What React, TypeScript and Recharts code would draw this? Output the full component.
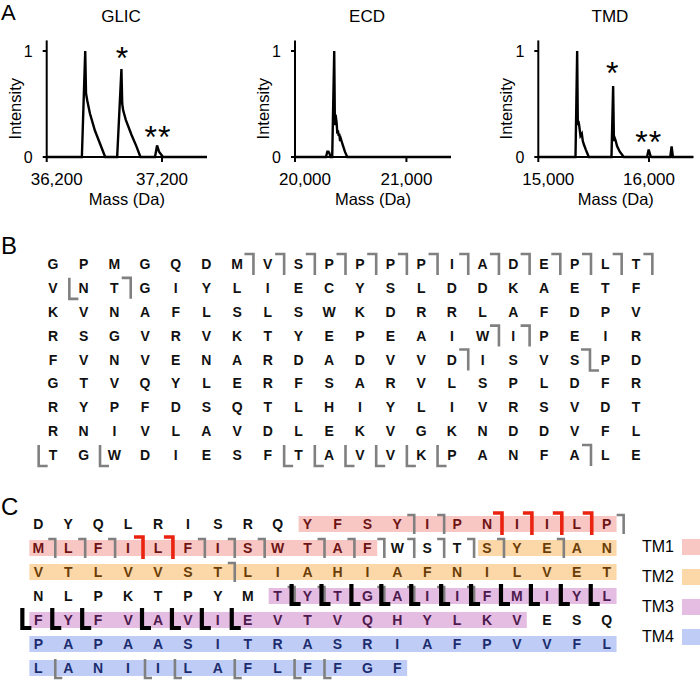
import React from 'react';
import {
  LineChart,
  Line,
  XAxis,
  YAxis,
  ScatterChart,
  Scatter,
  ReferenceArea,
  ReferenceDot,
  Legend,
} from 'recharts';

const FONT = '"Liberation Sans", Arial, Helvetica, sans-serif';

// ---------------- Panel A : deconvoluted mass spectra ----------------
const glicMass = [36200, 36505, 36534, 36541, 36552, 36575, 36618, 36661, 36707, 36811, 36848, 36855, 36863, 36886, 36935, 36978, 37013, 37139, 37157, 37174, 37209, 37590];
const glicIntensity = [0, 0, 1.0, 0.6, 0.53, 0.41, 0.25, 0.13, 0, 0, 0.83, 0.5, 0.44, 0.35, 0.21, 0.1, 0, 0, 0.11, 0.05, 0, 0];

const ecdMass = [20000, 20278, 20290, 20300, 20307, 20319, 20334, 20352, 20358, 20364, 20373, 20380, 20385, 20392, 20397, 20405, 20412, 20427, 20448, 20469, 21400];
const ecdIntensity = [0, 0, 0.05, 0.05, 0.04, 0, 0, 1.0, 0.3, 0.4, 0.33, 0.22, 0.25, 0.2, 0.22, 0.15, 0.17, 0.12, 0.05, 0, 0];

const tmdMass = [15000, 15336, 15351, 15357, 15362, 15369, 15375, 15381, 15393, 15402, 15411, 15429, 15456, 15661, 15676, 15683, 15690, 15697, 15712, 15736, 15772, 15982, 15997, 16012, 16024, 16192, 16204, 16216, 16400];
const tmdIntensity = [0, 0, 1.0, 0.3, 0.34, 0.3, 0.25, 0.2, 0.22, 0.15, 0.12, 0.07, 0, 0, 0.67, 0.15, 0.18, 0.16, 0.1, 0.05, 0, 0, 0.07, 0.015, 0, 0, 0.1, 0, 0];

const glicTicks = [36200, 37200];
const ecdTicks = [20000, 21000];
const tmdTicks = [15000, 16000];
const intensityTicks = [0, 1];

const glicStarMass = [36857, 37165];
const glicStarIntensity = [0.977, 0.226];
const glicStarText = ['*', '**'];
const tmdStarMass = [15673, 15997];
const tmdStarIntensity = [0.83, 0.18];
const tmdStarText = ['*', '**'];

// ---------------- Panel B : full GLIC sequence ----------------
const seqRowsB = [
  'GPMGQDMVSPPPPIADEPLT',
  'VNTGIYLIECYSLDDKAETF',
  'KVNAFLSLSWKDRRLAFDPV',
  'RSGVRVKTYEPEAIWIPEIR',
  'FVNVENARDADVVDISVSPD',
  'GTVQYLERFSARVLSPLDFR',
  'RYPFDSQTLHIYLIVRSVDT',
  'RNIVLAVDLEKVGKNDDVFL',
  'TGWDIESFTAVVKPANFALE',
];
// [row, column, kind]  a = cut after residue, b = cut before residue, s = step
const cutsB: [number, number, string][] = [
  [1, 7, 'a'], [1, 8, 'a'], [1, 9, 'a'], [1, 10, 'a'], [1, 11, 'a'], [1, 12, 'a'], [1, 13, 'a'],
  [1, 14, 'a'], [1, 15, 'a'], [1, 16, 'a'], [1, 17, 'a'], [1, 18, 'a'], [1, 19, 'a'], [1, 20, 'a'],
  [2, 2, 'b'], [2, 3, 'a'],
  [4, 15, 'a'], [4, 16, 'a'],
  [5, 14, 'a'], [5, 18, 's'],
  [9, 1, 'b'], [9, 3, 'b'], [9, 9, 'b'], [9, 10, 'b'], [9, 11, 'b'], [9, 12, 'b'], [9, 13, 'b'], [9, 14, 'b'],
  [9, 18, 'a'],
];

// ---------------- Panel C : TMD sequence ----------------
const seqRowsC = [
  'DYQLRISRQYFSYIPNIILP',
  'MLFILFISWTAFWSTSYEAN',
  'VTLVVSTLIAHIAFNILVET',
  'NLPKTPYMTYTGAIIFMIYL',
  'FYFVAVIEVTVQHYLKVESQ',
  'PAPAASITRASRIAFPVVFL',
  'LANIILAFLFFGF',
];
// [row, fromColumn, toColumn, helix]
const bandsC: [number, number, number, string][] = [
  [1, 10, 20, 'TM1'],
  [2, 1, 12, 'TM1'],
  [2, 16, 20, 'TM2'],
  [3, 1, 20, 'TM2'],
  [4, 9, 20, 'TM3'],
  [5, 1, 17, 'TM3'],
  [6, 1, 20, 'TM4'],
  [7, 1, 13, 'TM4'],
];
// [row, column, kind, tone]  g = grey, r = red, k = black
const cutsC: [number, number, string, string][] = [
  [1, 13, 'a', 'g'], [1, 14, 'a', 'g'], [1, 16, 'a', 'r'], [1, 17, 'a', 'r'], [1, 18, 'a', 'r'], [1, 19, 'a', 'r'], [1, 20, 'a', 'g'],
  [2, 1, 'a', 'g'], [2, 2, 'a', 'g'], [2, 3, 'a', 'g'], [2, 4, 'a', 'r'], [2, 5, 'a', 'r'], [2, 6, 'a', 'g'], [2, 7, 'a', 'g'],
  [2, 8, 'a', 'g'], [2, 10, 'a', 'g'], [2, 11, 'a', 'g'], [2, 12, 'a', 'g'], [2, 13, 'a', 'g'], [2, 14, 'a', 'g'],
  [2, 15, 'a', 'g'], [2, 16, 'a', 'g'], [2, 18, 'a', 'g'],
  [3, 7, 'a', 'g'],
  [4, 9, 'a', 'g'], [4, 10, 'a', 'g'], [4, 12, 'a', 'g'], [4, 13, 'a', 'g'], [4, 14, 'a', 'g'], [4, 15, 'a', 'g'],
  [4, 10, 'b', 'k'], [4, 11, 'b', 'k'], [4, 12, 'b', 'k'], [4, 13, 'b', 'k'], [4, 14, 'b', 'k'], [4, 15, 'b', 'k'],
  [4, 16, 'b', 'k'], [4, 17, 'b', 'k'], [4, 18, 'b', 'k'], [4, 19, 'b', 'k'], [4, 20, 'b', 'k'],
  [5, 1, 'b', 'k'], [5, 2, 'b', 'k'], [5, 3, 'b', 'k'], [5, 5, 'b', 'k'], [5, 6, 'b', 'k'], [5, 7, 'b', 'k'], [5, 8, 'b', 'k'],
  [7, 2, 'b', 'g'], [7, 5, 'b', 'g'], [7, 6, 'b', 'g'], [7, 8, 'b', 'g'], [7, 10, 'b', 'g'], [7, 11, 'b', 'g'],
];

const helixNames = ['TM1', 'TM2', 'TM3', 'TM4'];
const helixFill = ['#f9c7c3', '#fcd8a8', '#e6bde2', '#bfcdf6'];
const helixText = ['#6e1414', '#6b3d06', '#4d1a4d', '#1c2c6e'];

// ---------------- helpers ----------------
const fmt = (v: number) => v.toLocaleString('en-US');

const makeXTick = (firstShift: number) => (p: any) => (
  <text
    x={p.x + (p.index === 0 ? firstShift : 0)}
    y={p.y}
    dy="0.71em"
    textAnchor="middle"
    fontFamily={FONT}
    fontSize={17}
    fill="#000"
  >
    {fmt(p.payload.value)}
  </text>
);

const yTick = (p: any) => (
  <text x={p.x} y={p.y} dy="0.36em" textAnchor="end" fontFamily={FONT} fontSize={16} fill="#000">
    {p.payload.value}
  </text>
);

type Spec = {
  title: string;
  mass: number[];
  intensity: number[];
  ticks: number[];
  domain: [number, number];
  starMass: number[];
  starIntensity: number[];
  starText: string[];
  left: number;
  width: number;
  plotLeft: number;
  plotRight: number;
  titleX: number;
};

const spectra: Spec[] = [
  {
    title: 'GLIC', mass: glicMass, intensity: glicIntensity, ticks: glicTicks, domain: [36200, 37590],
    starMass: glicStarMass, starIntensity: glicStarIntensity, starText: glicStarText,
    left: 0, width: 230, plotLeft: 46.7, plotRight: 207, titleX: 121,
  },
  {
    title: 'ECD', mass: ecdMass, intensity: ecdIntensity, ticks: ecdTicks, domain: [20000, 21400],
    starMass: [], starIntensity: [], starText: [],
    left: 230, width: 230, plotLeft: 65, plotRight: 221, titleX: 367,
  },
  {
    title: 'TMD', mass: tmdMass, intensity: tmdIntensity, ticks: tmdTicks, domain: [15000, 16400],
    starMass: tmdStarMass, starIntensity: tmdStarIntensity, starText: tmdStarText,
    left: 460, width: 240, plotLeft: 78.3, plotRight: 233.3, titleX: 610,
  },
];

const CH = 215;

function Spectrum({ s }: { s: Spec }) {
  const data = s.mass.map((m, k) => ({ m, i: s.intensity[k] }));
  return (
    <div style={{ position: 'absolute', left: s.left, top: 0, width: s.width, height: CH }}>
      <LineChart
        width={s.width}
        height={CH}
        data={data}
        margin={{ top: 40.4, right: s.width - s.plotRight, bottom: 28, left: s.plotLeft - 30 }}
      >
        <XAxis
          dataKey="m"
          type="number"
          domain={s.domain}
          ticks={s.ticks}
          interval={0}
          height={30}
          axisLine={{ stroke: '#000', strokeWidth: 2 }}
          tickLine={{ stroke: '#000', strokeWidth: 2 }}
          tickSize={5}
          tickMargin={11}
          tick={makeXTick(10)}
          label={(p: any) => {
            const vb = p.viewBox;
            return (
              <text
                x={vb.x + vb.width / 2}
                y={vb.y + 48}
                textAnchor="middle"
                fontFamily={FONT}
                fontSize={16.5}
                fill="#000"
              >
                Mass (Da)
              </text>
            );
          }}
        />
        <YAxis
          type="number"
          domain={[0, 1.1]}
          ticks={intensityTicks}
          interval={0}
          width={30}
          axisLine={{ stroke: '#000', strokeWidth: 2 }}
          tickLine={{ stroke: '#000', strokeWidth: 2 }}
          tickSize={4}
          tickMargin={10}
          tick={yTick}
          label={(p: any) => {
            const vb = p.viewBox;
            const x = vb.x + vb.width - 32;
            const y = vb.y + vb.height / 2 + 10;
            return (
              <text
                x={x}
                y={y}
                transform={`rotate(-90 ${x} ${y})`}
                textAnchor="middle"
                dominantBaseline="central"
                fontFamily={FONT}
                fontSize={16.5}
                fill="#000"
              >
                Intensity
              </text>
            );
          }}
        />
        <Line
          dataKey="i"
          type="linear"
          stroke="#000"
          strokeWidth={2.4}
          dot={false}
          isAnimationActive={false}
        />
        {s.starMass.map((m, k) => (
          <ReferenceDot
            key={k}
            x={m}
            y={s.starIntensity[k]}
            r={0}
            shape={(p: any) => (
              <text
                x={p.cx}
                y={p.cy}
                dy="0.48em"
                textAnchor="middle"
                fontFamily={FONT}
                fontSize={32}
                letterSpacing={1}
                fill="#000"
              >
                {s.starText[k]}
              </text>
            )}
          />
        ))}
      </LineChart>
      <div
        style={{
          position: 'absolute',
          left: s.titleX - s.left - 50,
          top: 8,
          width: 100,
          textAlign: 'center',
          fontFamily: FONT,
          fontSize: 17,
          lineHeight: 1,
          color: '#000',
        }}
      >
        {s.title}
      </div>
    </div>
  );
}

type Geo = { up: number; down: number; arm: number; dx: number; stroke: string; w: number };

function bracketPath(cx: number, cy: number, kind: string, g: Geo) {
  const top = cy - g.up;
  const bot = cy + g.down;
  if (kind === 'a') {
    const x = cx + g.dx;
    return `M${x - g.arm},${top} H${x} V${bot}`;
  }
  if (kind === 'b') {
    const x = cx + g.dx;
    return `M${x},${top} V${bot} H${x + g.arm}`;
  }
  const x = cx;
  return `M${x - g.arm},${top} H${x} V${bot} H${x + g.arm}`;
}

const geoB: Geo = { up: 10, down: 11, arm: 9, dx: 1, stroke: '#808080', w: 2.6 };
const geoC: Record<string, Geo> = {
  g: { up: 9, down: 10, arm: 7, dx: 2, stroke: '#808080', w: 2.6 },
  r: { up: 11, down: 11, arm: 9, dx: 0, stroke: '#ea2210', w: 3.6 },
  k: { up: 12, down: 8, arm: 9, dx: -1, stroke: '#000000', w: 4.2 },
};

// ---------------- data tables for panels B and C ----------------
const lettersB = seqRowsB.flatMap((s, r) => s.split('').map((aa, c) => ({ x: c + 1, y: r + 1, aa })));
const bracketsB = cutsB.map(([row, col, kind]) => ({
  x: kind === 'b' ? col - 0.5 : col + 0.5,
  y: row,
  kind,
}));

const helixOf = (row: number, col: number) => {
  const b = bandsC.find(([r, f, t]) => r === row && col >= f && col <= t);
  return b ? helixNames.indexOf(b[3]) : -1;
};
const lettersC = seqRowsC.flatMap((s, r) =>
  s.split('').map((aa, c) => ({ x: c + 1, y: r + 1, aa, h: helixOf(r + 1, c + 1) })),
);
const bracketsC = cutsC.map(([row, col, kind, tone]) => ({
  x: kind === 'b' ? col - 0.5 : col + 0.5,
  y: row,
  kind,
  tone,
}));

const letterShape = (p: any) => (
  <text
    x={p.cx}
    y={p.cy}
    textAnchor="middle"
    dominantBaseline="central"
    fontFamily={FONT}
    fontWeight="bold"
    fontSize={14}
    fill={p.payload.h !== undefined && p.payload.h >= 0 ? helixText[p.payload.h] : '#111'}
  >
    {p.payload.aa}
  </text>
);

const bracketShapeB = (p: any) => (
  <path
    d={bracketPath(p.cx, p.cy, p.payload.kind, geoB)}
    fill="none"
    stroke={geoB.stroke}
    strokeWidth={geoB.w}
  />
);

const bracketShapeC = (p: any) => {
  const g = geoC[p.payload.tone];
  return (
    <path d={bracketPath(p.cx, p.cy, p.payload.kind, g)} fill="none" stroke={g.stroke} strokeWidth={g.w} />
  );
};

const legendContent = () => (
  <div style={{ fontFamily: FONT, fontSize: 16, color: '#000' }}>
    {helixNames.map((n, k) => (
      <div key={n} style={{ position: 'relative', height: 30, lineHeight: '30px' }}>
        <span style={{ position: 'absolute', left: 2 }}>{n}</span>
        <span
          style={{
            position: 'absolute',
            left: 42,
            top: 7,
            width: 20,
            height: 16,
            background: helixFill[k],
          }}
        />
      </div>
    ))}
  </div>
);

const panelLabel = (t: string, top: number, size: number) => (
  <div
    style={{
      position: 'absolute',
      left: 1,
      top,
      fontFamily: FONT,
      fontSize: size,
      lineHeight: 1,
      color: '#000',
    }}
  >
    {t}
  </div>
);

export default function App() {
  return (
    <div
      style={{
        position: 'absolute',
        left: 0,
        top: 0,
        width: 700,
        height: 681,
        background: '#fff',
        overflow: 'hidden',
        fontFamily: FONT,
      }}
    >
      {spectra.map((s) => (
        <Spectrum key={s.title} s={s} />
      ))}

      <div style={{ position: 'absolute', left: 0, top: 230, width: 700, height: 250 }}>
        <ScatterChart
          width={700}
          height={250}
          margin={{ top: 22.06, right: 48.65, bottom: 13.06, left: 37.66 }}
        >
          <XAxis type="number" dataKey="x" domain={[0.5, 20.5]} hide />
          <YAxis type="number" dataKey="y" domain={[0.5, 9.5]} reversed hide />
          <Scatter data={bracketsB} shape={bracketShapeB} isAnimationActive={false} />
          <Scatter data={lettersB} shape={letterShape} isAnimationActive={false} />
        </ScatterChart>
      </div>

      <div style={{ position: 'absolute', left: 0, top: 490, width: 700, height: 191 }}>
        <ScatterChart
          width={700}
          height={191}
          margin={{ top: 22, right: 78.35, bottom: 1, left: 23.35 }}
        >
          <XAxis type="number" dataKey="x" domain={[0.5, 20.5]} hide />
          <YAxis type="number" dataKey="y" domain={[0.5, 7.5]} reversed hide />
          {bandsC.map(([row, from, to, tm], k) => (
            <ReferenceArea
              key={k}
              x1={from - 0.3}
              x2={to + 0.33}
              y1={row - 0.33}
              y2={row + 0.33}
              fill={helixFill[helixNames.indexOf(tm)]}
              fillOpacity={1}
              stroke="none"
              ifOverflow="visible"
            />
          ))}
          <Scatter data={bracketsC} shape={bracketShapeC} isAnimationActive={false} />
          <Scatter data={lettersC} shape={letterShape} isAnimationActive={false} />
          <Legend
            layout="horizontal"
            verticalAlign="middle"
            align="center"
            content={legendContent}
            wrapperStyle={{ position: 'absolute', left: 640, top: 42, width: 70, height: 120 }}
          />
        </ScatterChart>
      </div>

      {panelLabel('A', 2, 22)}
      {panelLabel('B', 234, 24)}
      {panelLabel('C', 495, 24)}
    </div>
  );
}
